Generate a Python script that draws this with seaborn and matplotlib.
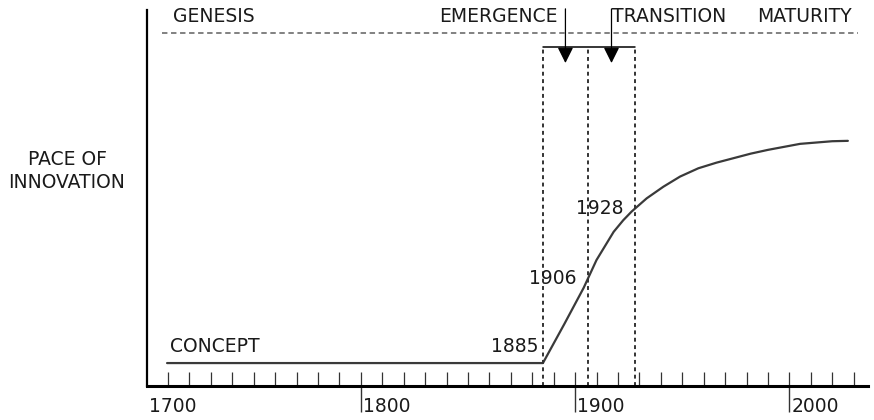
import numpy as np
import pandas as pd
import matplotlib
matplotlib.use("Agg")
import matplotlib.pyplot as plt
import seaborn as sns

sns.set_style("white")
plt.rcParams['font.family'] = ['DejaVu Sans']

# curva do ritmo de inovacao
curve_years = [1709.6, 1885, 1895, 1904, 1910, 1918, 1922.5, 1926.4, 1933.4, 1941.2,
               1949, 1957.5, 1966, 1974, 1982, 1990, 2005, 2020, 2027.3]
curve_pace = [6.1, 6.1, 16.5, 26.1, 33.5, 41.0, 44.1, 46.4, 49.9, 53.0,
              55.7, 57.9, 59.4, 60.6, 61.8, 62.8, 64.4, 65.1, 65.2]

milestone_years = [1885, 1906, 1928]
milestone_labels = ['1885', '1906', '1928']
phase_labels = ['GENESIS', 'EMERGENCE', 'TRANSITION', 'MATURITY']
tick_years = [1700, 1800, 1900, 2000]
tick_labels = ['1700', '1800', '1900', '2000']

df = pd.DataFrame({'Year': curve_years, 'Pace': curve_pace})

fig = plt.figure(figsize=(8.74, 4.2), dpi=100)
ax = fig.add_axes([146.5 / 874, 34 / 420, 721.5 / 874, 376 / 420])
ax.set_xlim(1700, 2036.7)
ax.set_ylim(0, 100)

# curva
sns.lineplot(data=df, x='Year', y='Pace', ax=ax, color='#3a3a3a', linewidth=1.6)

# linha tracejada do topo
ax.plot([1707.2, 2032], [93.9, 93.9], color='#777777', linewidth=1.3,
        linestyle=(0, (3, 2)))

# marcos: linhas verticais tracejadas e colchete
top_bracket = 90.2
for yr in milestone_years:
    ax.plot([yr, yr], [0, top_bracket], color='#333333', linewidth=1.4,
            linestyle=(0, (2, 1.8)))
ax.plot([milestone_years[0], milestone_years[-1]], [top_bracket, top_bracket],
        color='black', linewidth=1.1)

# setas entre os marcos
for a, b in zip(milestone_years[:-1], milestone_years[1:]):
    mid = (a + b) / 2
    ax.annotate('', xy=(mid, 85.9), xytext=(mid, 100.3),
                arrowprops=dict(arrowstyle='-|>,head_length=0.8,head_width=0.4',
                                color='black', lw=0.9, mutation_scale=12,
                                shrinkA=0, shrinkB=0),
                annotation_clip=False)

# rotulos dos marcos
label_pace = [10.6, 28.7, 47.3]
label_gap = [3, 8, 8]
fs = 13.5
txt = '#1a1a1a'
for yr, lab, py, gap in zip(milestone_years, milestone_labels, label_pace, label_gap):
    ax.annotate(lab, xy=(yr, py), xytext=(-gap, 0), textcoords='offset points',
                ha='right', va='center', fontsize=fs, color=txt)

# fases no topo
fig.text(173 / 874, 1 - 16 / 420, phase_labels[0], ha='left', va='center', fontsize=fs, color=txt)
fig.text(558 / 874, 1 - 16 / 420, phase_labels[1], ha='right', va='center', fontsize=fs, color=txt)
fig.text(612 / 874, 1 - 16 / 420, phase_labels[2], ha='left', va='center', fontsize=fs, color=txt)
fig.text(757 / 874, 1 - 16 / 420, phase_labels[3], ha='left', va='center', fontsize=fs, color=txt)

fig.text(67 / 874, 1 - 171 / 420, 'PACE OF\nINNOVATION', ha='center', va='center',
         fontsize=fs, linespacing=1.3, color=txt)
fig.text(170 / 874, 1 - 347 / 420, 'CONCEPT', ha='left', va='center', fontsize=fs, color=txt)

# eixos
for s in ['top', 'right']:
    ax.spines[s].set_visible(False)
ax.spines['left'].set_linewidth(1.6)
ax.spines['bottom'].set_linewidth(2.2)
ax.spines['left'].set_color('black')
ax.spines['bottom'].set_color('black')
ax.set_yticks([])
ax.set_xlabel('')
ax.set_ylabel('')

ax.xaxis.remove_overlapping_locs = False
ax.set_xticks(tick_years[1:])
ax.set_xticklabels([])
ax.set_xticks(np.arange(1710, 2031, 10), minor=True)
ax.tick_params(axis='x', which='major', direction='out', length=19, width=1.0,
               color='#333333', bottom=True)
ax.tick_params(axis='x', which='minor', direction='in', length=10, width=0.9,
               color='#333333', bottom=True)

for yr, lab in zip(tick_years, tick_labels):
    ax.annotate(lab, xy=(yr, 0), xycoords=('data', 'axes fraction'),
                xytext=(1.5, -15), textcoords='offset points',
                ha='left', va='center', fontsize=fs, color=txt)

fig.savefig('out.png', dpi=100)
